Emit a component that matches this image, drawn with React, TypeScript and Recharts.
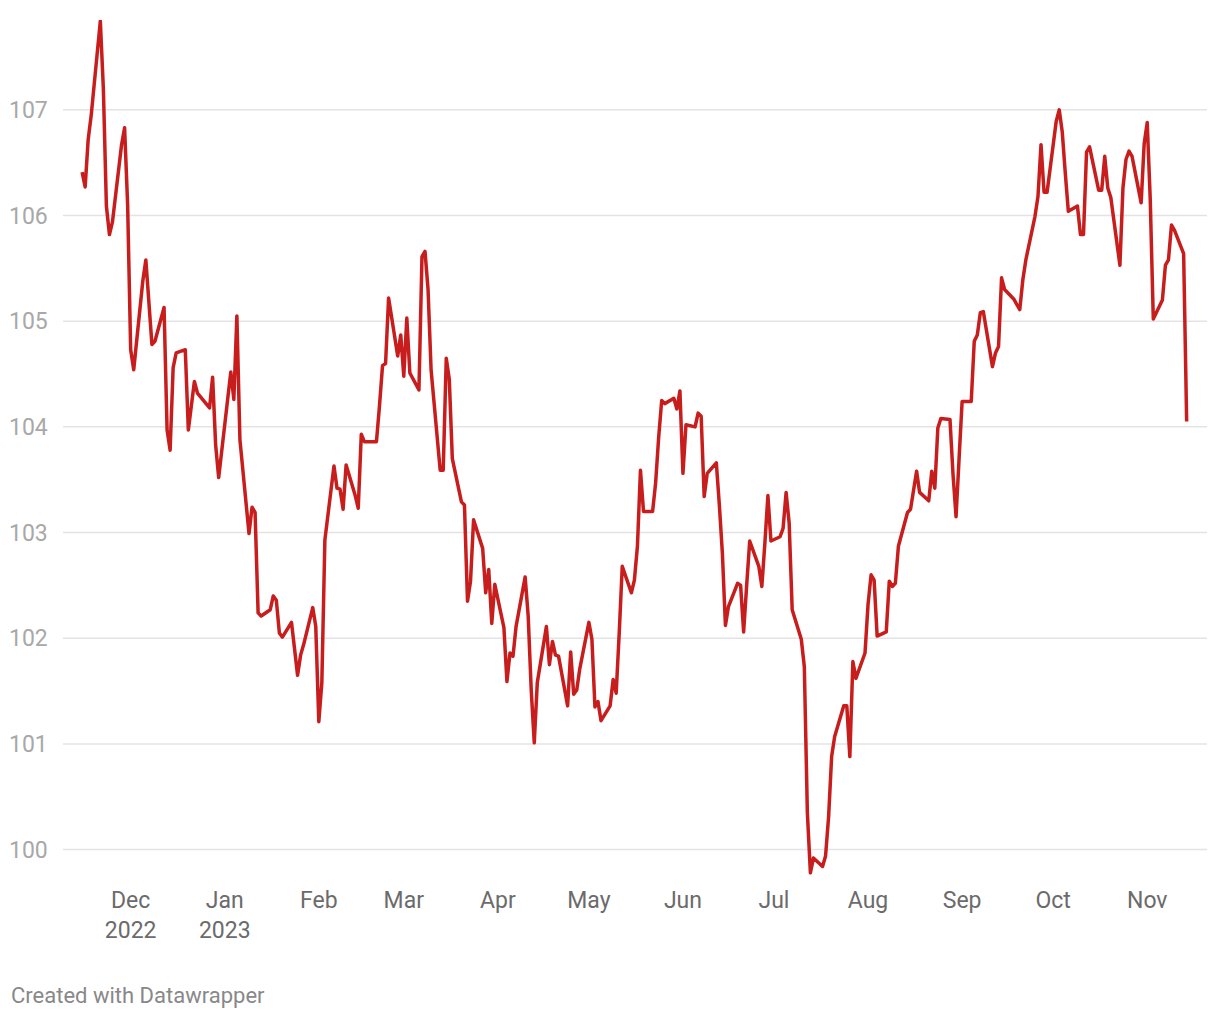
import { Line, LineChart, ReferenceLine, XAxis, YAxis } from 'recharts';

const DAY = 86400000;
const toTime = (d: string) => new Date(d + 'T00:00:00Z').getTime();

// daily close
const closes: [string, number][] = [
  ['2022-11-15', 106.41], ['2022-11-16', 106.27], ['2022-11-17', 106.72], ['2022-11-18', 106.95],
  ['2022-11-21', 107.84], ['2022-11-22', 107.2], ['2022-11-23', 106.09], ['2022-11-24', 105.82],
  ['2022-11-25', 105.94], ['2022-11-28', 106.67], ['2022-11-29', 106.83], ['2022-11-30', 106.1],
  ['2022-12-01', 104.73], ['2022-12-02', 104.54], ['2022-12-05', 105.38], ['2022-12-06', 105.58],
  ['2022-12-07', 105.18], ['2022-12-08', 104.78], ['2022-12-09', 104.81], ['2022-12-12', 105.13],
  ['2022-12-13', 103.97], ['2022-12-14', 103.78], ['2022-12-15', 104.56], ['2022-12-16', 104.7],
  ['2022-12-19', 104.73], ['2022-12-20', 103.97], ['2022-12-21', 104.2], ['2022-12-22', 104.43],
  ['2022-12-23', 104.32], ['2022-12-27', 104.18], ['2022-12-28', 104.47], ['2022-12-29', 103.83],
  ['2022-12-30', 103.52], ['2023-01-03', 104.52], ['2023-01-04', 104.26], ['2023-01-05', 105.05],
  ['2023-01-06', 103.88], ['2023-01-09', 102.99], ['2023-01-10', 103.24], ['2023-01-11', 103.19],
  ['2023-01-12', 102.24], ['2023-01-13', 102.21], ['2023-01-16', 102.27], ['2023-01-17', 102.4],
  ['2023-01-18', 102.36], ['2023-01-19', 102.05], ['2023-01-20', 102.01], ['2023-01-23', 102.15],
  ['2023-01-24', 101.9], ['2023-01-25', 101.65], ['2023-01-26', 101.84], ['2023-01-27', 101.94],
  ['2023-01-30', 102.29], ['2023-01-31', 102.11], ['2023-02-01', 101.21], ['2023-02-02', 101.58],
  ['2023-02-03', 102.93], ['2023-02-06', 103.63], ['2023-02-07', 103.42], ['2023-02-08', 103.41],
  ['2023-02-09', 103.22], ['2023-02-10', 103.64], ['2023-02-13', 103.35], ['2023-02-14', 103.23],
  ['2023-02-15', 103.93], ['2023-02-16', 103.86], ['2023-02-17', 103.86], ['2023-02-20', 103.86],
  ['2023-02-21', 104.2], ['2023-02-22', 104.58], ['2023-02-23', 104.6], ['2023-02-24', 105.22],
  ['2023-02-27', 104.67], ['2023-02-28', 104.87], ['2023-03-01', 104.48], ['2023-03-02', 105.03],
  ['2023-03-03', 104.51], ['2023-03-06', 104.35], ['2023-03-07', 105.61], ['2023-03-08', 105.66],
  ['2023-03-09', 105.3], ['2023-03-10', 104.54], ['2023-03-13', 103.59], ['2023-03-14', 103.59],
  ['2023-03-15', 104.65], ['2023-03-16', 104.45], ['2023-03-17', 103.7], ['2023-03-20', 103.29],
  ['2023-03-21', 103.26], ['2023-03-22', 102.35], ['2023-03-23', 102.54], ['2023-03-24', 103.12],
  ['2023-03-27', 102.85], ['2023-03-28', 102.43], ['2023-03-29', 102.65], ['2023-03-30', 102.14],
  ['2023-03-31', 102.51], ['2023-04-03', 102.1], ['2023-04-04', 101.59], ['2023-04-05', 101.86],
  ['2023-04-06', 101.83], ['2023-04-07', 102.11], ['2023-04-10', 102.58], ['2023-04-11', 102.21],
  ['2023-04-12', 101.51], ['2023-04-13', 101.01], ['2023-04-14', 101.58], ['2023-04-17', 102.11],
  ['2023-04-18', 101.75], ['2023-04-19', 101.97], ['2023-04-20', 101.84], ['2023-04-21', 101.83],
  ['2023-04-24', 101.36], ['2023-04-25', 101.87], ['2023-04-26', 101.47], ['2023-04-27', 101.51],
  ['2023-04-28', 101.71], ['2023-05-01', 102.15], ['2023-05-02', 101.99], ['2023-05-03', 101.35],
  ['2023-05-04', 101.4], ['2023-05-05', 101.22], ['2023-05-08', 101.36], ['2023-05-09', 101.61],
  ['2023-05-10', 101.48], ['2023-05-11', 102.05], ['2023-05-12', 102.68], ['2023-05-15', 102.43],
  ['2023-05-16', 102.55], ['2023-05-17', 102.87], ['2023-05-18', 103.59], ['2023-05-19', 103.2],
  ['2023-05-22', 103.2], ['2023-05-23', 103.47], ['2023-05-24', 103.9], ['2023-05-25', 104.25],
  ['2023-05-26', 104.22], ['2023-05-29', 104.27], ['2023-05-30', 104.17], ['2023-05-31', 104.34],
  ['2023-06-01', 103.56], ['2023-06-02', 104.02], ['2023-06-05', 104.0], ['2023-06-06', 104.13],
  ['2023-06-07', 104.1], ['2023-06-08', 103.34], ['2023-06-09', 103.56], ['2023-06-12', 103.66],
  ['2023-06-13', 103.26], ['2023-06-14', 102.8], ['2023-06-15', 102.12], ['2023-06-16', 102.3],
  ['2023-06-19', 102.52], ['2023-06-20', 102.5], ['2023-06-21', 102.06], ['2023-06-22', 102.5],
  ['2023-06-23', 102.92], ['2023-06-26', 102.68], ['2023-06-27', 102.49], ['2023-06-28', 102.9],
  ['2023-06-29', 103.35], ['2023-06-30', 102.92], ['2023-07-03', 102.96], ['2023-07-04', 103.04],
  ['2023-07-05', 103.38], ['2023-07-06', 103.09], ['2023-07-07', 102.27], ['2023-07-10', 101.99],
  ['2023-07-11', 101.73], ['2023-07-12', 100.35], ['2023-07-13', 99.78], ['2023-07-14', 99.92],
  ['2023-07-17', 99.84], ['2023-07-18', 99.94], ['2023-07-19', 100.31], ['2023-07-20', 100.88],
  ['2023-07-21', 101.07], ['2023-07-24', 101.36], ['2023-07-25', 101.36], ['2023-07-26', 100.88],
  ['2023-07-27', 101.78], ['2023-07-28', 101.62], ['2023-07-31', 101.86], ['2023-08-01', 102.32],
  ['2023-08-02', 102.6], ['2023-08-03', 102.55], ['2023-08-04', 102.02], ['2023-08-07', 102.06],
  ['2023-08-08', 102.54], ['2023-08-09', 102.49], ['2023-08-10', 102.52], ['2023-08-11', 102.87],
  ['2023-08-14', 103.19], ['2023-08-15', 103.22], ['2023-08-16', 103.4], ['2023-08-17', 103.58],
  ['2023-08-18', 103.38], ['2023-08-21', 103.3], ['2023-08-22', 103.58], ['2023-08-23', 103.42],
  ['2023-08-24', 103.99], ['2023-08-25', 104.08], ['2023-08-28', 104.07], ['2023-08-29', 103.55],
  ['2023-08-30', 103.15], ['2023-08-31', 103.7], ['2023-09-01', 104.24], ['2023-09-04', 104.24],
  ['2023-09-05', 104.81], ['2023-09-06', 104.87], ['2023-09-07', 105.08], ['2023-09-08', 105.09],
  ['2023-09-11', 104.57], ['2023-09-12', 104.7], ['2023-09-13', 104.76], ['2023-09-14', 105.41],
  ['2023-09-15', 105.3], ['2023-09-18', 105.21], ['2023-09-19', 105.16], ['2023-09-20', 105.11],
  ['2023-09-21', 105.39], ['2023-09-22', 105.58], ['2023-09-25', 105.99], ['2023-09-26', 106.18],
  ['2023-09-27', 106.67], ['2023-09-28', 106.22], ['2023-09-29', 106.22], ['2023-10-02', 106.89],
  ['2023-10-03', 107.0], ['2023-10-04', 106.79], ['2023-10-05', 106.4], ['2023-10-06', 106.04],
  ['2023-10-09', 106.09], ['2023-10-10', 105.82], ['2023-10-11', 105.82], ['2023-10-12', 106.6],
  ['2023-10-13', 106.65], ['2023-10-16', 106.24], ['2023-10-17', 106.24], ['2023-10-18', 106.56],
  ['2023-10-19', 106.26], ['2023-10-20', 106.17], ['2023-10-23', 105.53], ['2023-10-24', 106.26],
  ['2023-10-25', 106.53], ['2023-10-26', 106.61], ['2023-10-27', 106.56], ['2023-10-30', 106.12],
  ['2023-10-31', 106.68], ['2023-11-01', 106.88], ['2023-11-02', 106.15], ['2023-11-03', 105.02],
  ['2023-11-06', 105.2], ['2023-11-07', 105.53], ['2023-11-08', 105.58], ['2023-11-09', 105.91],
  ['2023-11-10', 105.86], ['2023-11-13', 105.64], ['2023-11-14', 104.05],
];

const monthTicks = [
  '2022-12-01', '2023-01-01', '2023-02-01', '2023-03-01', '2023-04-01', '2023-05-01',
  '2023-06-01', '2023-07-01', '2023-08-01', '2023-09-01', '2023-10-01', '2023-11-01',
];
const monthLabels = [
  ['Dec', '2022'], ['Jan', '2023'], ['Feb'], ['Mar'], ['Apr'], ['May'],
  ['Jun'], ['Jul'], ['Aug'], ['Sep'], ['Oct'], ['Nov'],
];
const yTicks = [100, 101, 102, 103, 104, 105, 106, 107];

const data = closes.map(([d, v]) => ({ t: toTime(d), dxy: v }));
const tickTimes = monthTicks.map(toTime);
const xDomain = [data[0].t - 6.3 * DAY, data[data.length - 1].t + 6.7 * DAY];

const FONT = 'Roboto, "Noto Sans", sans-serif';

const MonthTick = ({ x, y, payload }: any) => {
  const lines = monthLabels[tickTimes.indexOf(payload.value)] ?? [];
  return (
    <g>
      {lines.map((s, k) => (
        <text
          key={k}
          x={x}
          y={y + 24 + k * 30}
          textAnchor="middle"
          fill="#6b6b6b"
          fontSize={23}
          fontFamily={FONT}>
          {s}
        </text>
      ))}
    </g>
  );
};

const ValueTick = ({ y, payload }: any) => (
  <text x={9} y={y} dy="0.35em" fill="#a8a8a8" fontSize={23} fontFamily={FONT}>
    {payload.value}
  </text>
);

export default function App() {
  return (
    <div
      style={{
        position: 'absolute',
        left: 0,
        top: 0,
        width: 1220,
        height: 1020,
        background: '#fff',
      }}>
      <LineChart
        width={1220}
        height={960}
        data={data}
        margin={{ top: 20, right: 13, left: 10, bottom: 24 }}>
        <XAxis
          dataKey="t"
          type="number"
          domain={xDomain}
          allowDataOverflow
          ticks={tickTimes}
          interval={0}
          height={60}
          axisLine={false}
          tickLine={false}
          tick={<MonthTick />}
        />
        <YAxis
          type="number"
          domain={[99.75, 107.85]}
          allowDataOverflow
          ticks={yTicks}
          interval={0}
          width={53}
          axisLine={false}
          tickLine={false}
          tick={<ValueTick />}
        />
        {yTicks.map((v) => (
          <ReferenceLine key={v} y={v} stroke="#e3e3e3" strokeWidth={1.5} />
        ))}
        <Line
          type="linear"
          dataKey="dxy"
          stroke="#c71e1d"
          strokeWidth={3.5}
          strokeLinejoin="round"
          dot={false}
          activeDot={false}
          isAnimationActive={false}
        />
      </LineChart>
      <div
        style={{
          position: 'absolute',
          left: 11,
          top: 982,
          fontFamily: FONT,
          fontSize: 22,
          color: '#888',
          lineHeight: '28px',
        }}>
        Created with Datawrapper
      </div>
    </div>
  );
}
